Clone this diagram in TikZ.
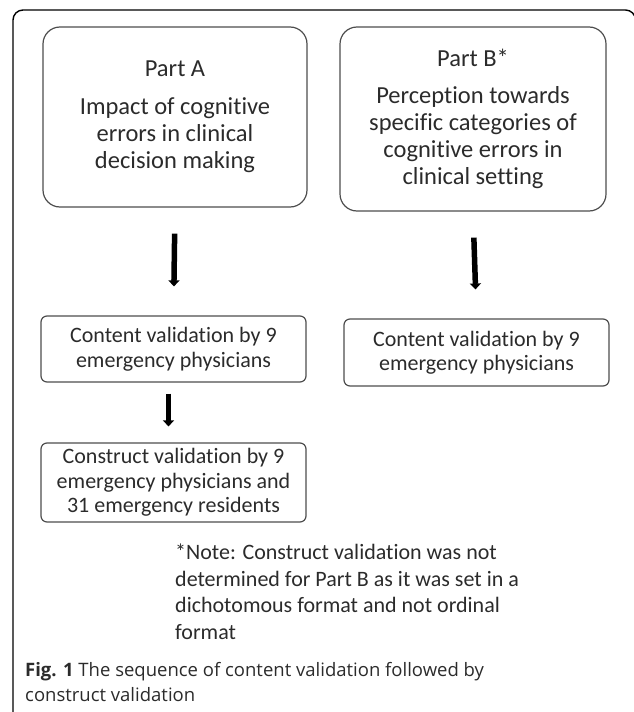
\documentclass[tikz,border=0pt]{standalone}
\usepackage{fontspec}
\setmainfont{Carlito}[Ligatures=NoCommon]
\newfontfamily\capfont{Open Sans}
\usetikzlibrary{arrows.meta}
\definecolor{boxline}{HTML}{4D4D4D}
\definecolor{txt}{HTML}{2B2B2B}

\begin{document}
\begin{tikzpicture}[x=1pt,y=-1pt,
    bigbox/.style={draw=boxline,line width=1.2pt,rounded corners=17pt,align=center,text=txt,inner sep=0pt,font=\fontsize{24.5}{27}\selectfont},
    smallbox/.style={draw=boxline,line width=1.2pt,rounded corners=6pt,align=center,text=txt,inner sep=0pt,font=\fontsize{22}{24.5}\selectfont},
    arr/.style={line width=5.5pt,-{Triangle[width=11pt,length=6pt]}}]
    \useasboundingbox (0,0) rectangle (634,712);
    \draw[line width=1.4pt,rounded corners=10pt] (13,712) -- (13,10) -- (635.5,10) -- (635.5,712);

    \node (1) at (175,117) [bigbox,minimum width=264pt,minimum height=180pt]{Part A\\[11pt]Impact of cognitive\\errors in clinical\\decision making};
    \node (2) at (473,119) [bigbox,minimum width=266pt,minimum height=184pt]{Part B*\\[10pt]Perception towards\\specific categories of\\cognitive errors in\\clinical setting};
    \node (3) at (173.5,349) [smallbox,minimum width=265pt,minimum height=66pt]{Content validation by 9\\emergency physicians};
    \node (4) at (476.5,352.5) [smallbox,minimum width=265pt,minimum height=67pt]{Content validation by 9\\emergency physicians};
    \node (5) at (173.5,482.5) [smallbox,minimum width=265pt,minimum height=79pt]{Construct validation by 9\\emergency physicians and\\31 emergency residents};
    \node (6) at (175,592) [anchor=west,align=left,text=txt,inner sep=0pt,font=\fontsize{22}{26.5}\selectfont]{*Note: Construct validation was not\\determined for Part B as it was set in a\\dichotomous format and not ordinal\\format};
    \node (7) at (25,682.5) [anchor=west,align=left,text=txt,inner sep=0pt,font=\capfont\fontsize{18.5}{25}\selectfont]{\textbf{Fig. 1} The sequence of content validation followed by\\construct validation};

    \draw[arr,shorten <=26pt,shorten >=29pt] (node cs:name=1,anchor=south) -- (node cs:name=3,anchor=north);
    \draw[arr,shorten <=26pt,shorten >=29pt] (node cs:name=2,anchor=south) -- (node cs:name=4,anchor=north);
    \draw[arr,shorten <=11pt,shorten >=16pt] ([xshift=-5pt]node cs:name=3,anchor=south) -- ([xshift=-5pt]node cs:name=5,anchor=north);

  \end{tikzpicture}
\end{document}
